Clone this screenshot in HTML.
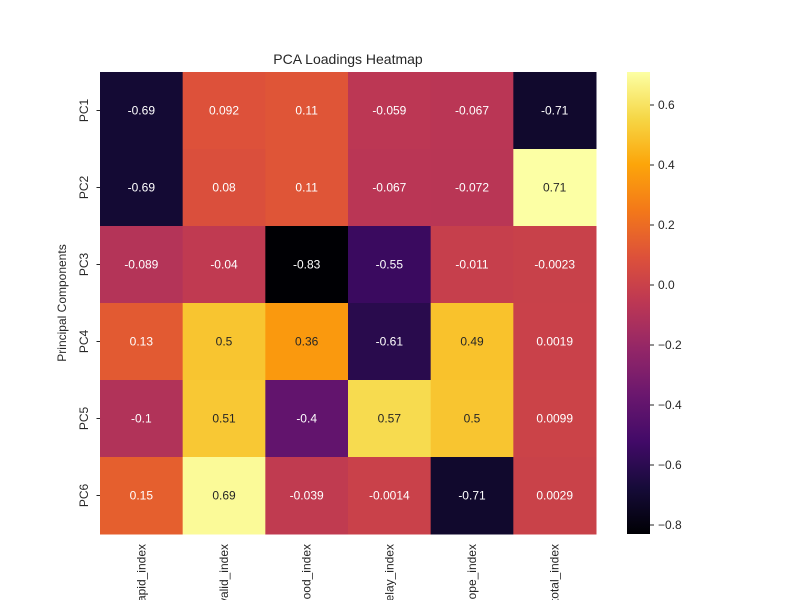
<!DOCTYPE html>
<html><head><meta charset="utf-8"><style>
body{margin:0;background:#fff;overflow:hidden;}
svg{display:block;font-family:"Liberation Sans",Arial,sans-serif;}
</style></head><body>
<svg id="chart" width="800" height="600">
<text x="348" y="64" font-size="14" text-anchor="middle" fill="#262626">PCA Loadings Heatmap</text>
<text transform="translate(66,303) rotate(-90)" font-size="12" text-anchor="middle" fill="#262626">Principal Components</text>
<g id="cells"></g><g id="ylab"></g><g id="xlab"></g>
<defs><linearGradient id="cg" x1="0" y1="1" x2="0" y2="0"></linearGradient></defs>
<rect x="627" y="72" width="23" height="462" fill="url(#cg)"/>
<g id="cbticks"></g>
</svg>
<script>
const rows=["PC1","PC2","PC3","PC4","PC5","PC6"];
const cols=["rapid_index","valid_index","flood_index","delay_index","slope_index","total_index"];
const values=[
[-0.69,0.092,0.11,-0.059,-0.067,-0.71],
[-0.69,0.08,0.11,-0.067,-0.072,0.71],
[-0.089,-0.04,-0.83,-0.55,-0.011,-0.0023],
[0.13,0.5,0.36,-0.61,0.49,0.0019],
[-0.1,0.51,-0.4,0.57,0.5,0.0099],
[0.15,0.69,-0.039,-0.0014,-0.71,0.0029]];
const cbTicks=[-0.8,-0.6,-0.4,-0.2,0.0,0.2,0.4,0.6];
const vmin=-0.83,vmax=0.71;
const stops=["#000004","#160b39","#420a68","#6a176e","#932667","#bc3754","#dd513a","#f37819","#fca50a","#f6d746","#fcffa4"];
function hex(h){return [1,3,5].map(i=>parseInt(h.substr(i,2),16));}
function cmap(t){t=Math.max(0,Math.min(1,t));const p=t*10,i=Math.min(9,Math.floor(p)),f=p-i;const a=hex(stops[i]),b=hex(stops[i+1]);return a.map((v,k)=>Math.round(v+(b[k]-v)*f));}
const X0=100,X1=596,Y0=72,Y1=534,cw=(X1-X0)/cols.length,ch=(Y1-Y0)/rows.length;
const ns="http://www.w3.org/2000/svg";
function el(t,a,p){const e=document.createElementNS(ns,t);for(const k in a)e.setAttribute(k,a[k]);p.appendChild(e);return e;}
const cells=document.getElementById('cells');
values.forEach((r,i)=>r.forEach((v,j)=>{
 const c=cmap((v-vmin)/(vmax-vmin));
 const rc=el('rect',{x:X0+j*cw,y:Y0+i*ch,width:cw+0.5,height:ch+0.5,fill:`rgb(${c})`},cells);
 
 
 const lum=c.map(x=>{x/=255;return x<=0.03928?x/12.92:Math.pow((x+0.055)/1.055,2.4)});
 const L=0.2126*lum[0]+0.7152*lum[1]+0.0722*lum[2];
 const tx=el('text',{x:X0+(j+0.5)*cw,y:Y0+(i+0.5)*ch+4,'font-size':12,'text-anchor':'middle',fill:L>0.408?'#262626':'#ffffff'},cells);
 tx.textContent=String(v);
 
 
}));
const yl=document.getElementById('ylab');
rows.forEach((r,i)=>{const y=Y0+(i+0.5)*ch;
 el('line',{x1:X0-3.5,x2:X0,y1:y,y2:y,stroke:'#262626'},yl);
 const t=el('text',{transform:`translate(${X0-12},${y}) rotate(-90)`,'font-size':12,'text-anchor':'middle',fill:'#262626'},yl);
 t.textContent=r;
 
 });
const xl=document.getElementById('xlab');
cols.forEach((c,j)=>{const x=X0+(j+0.5)*cw;
 const t=el('text',{transform:`translate(${x+4},${Y1+10}) rotate(-90)`,'font-size':12,'text-anchor':'end',fill:'#262626'},xl);
 t.textContent=c;
 
 });
const g=document.getElementById('cg');
for(let k=0;k<=20;k++){const c=cmap(k/20);el('stop',{offset:k/20,'stop-color':`rgb(${c})`},g);}
const cb=document.getElementById('cbticks');
cbTicks.forEach(v=>{const y=Y1-(v-vmin)/(vmax-vmin)*(Y1-Y0);
 el('line',{x1:650,x2:654,y1:y,y2:y,stroke:'#262626'},cb);
 const t=el('text',{x:658,y:y+4,'font-size':12,fill:'#262626'},cb);
 t.textContent=(v<0?'\u2212':'')+Math.abs(v).toFixed(1);
 
 });
</script>
</body></html>
